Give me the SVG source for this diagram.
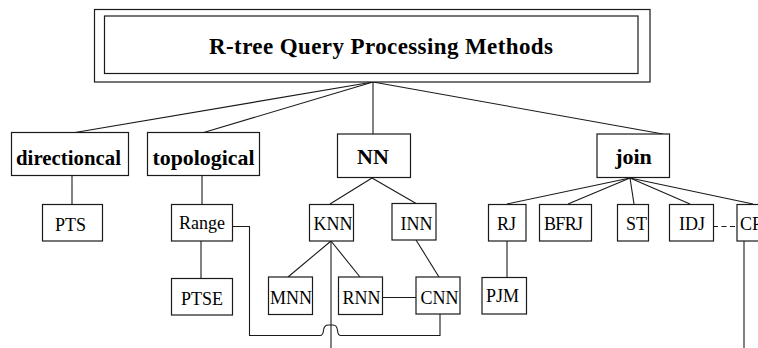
<svg xmlns="http://www.w3.org/2000/svg" width="758" height="348" viewBox="0 0 758 348">
  <style>
    .box { fill: #fff; stroke: #1a1a1a; stroke-width: 1.2; }
    .edge { fill: none; stroke: #1a1a1a; stroke-width: 1.1; }
    .dash { stroke-dasharray: 5 3.5; }
    .h1 { font-family: "Liberation Serif", "Times New Roman", serif; font-weight: bold; font-size: 22px; fill: #000; }
    .title { font-size: 23px; }
    .h2 { font-family: "Liberation Serif", "Times New Roman", serif; font-size: 18px; fill: #000; text-anchor: middle; }
  </style>
  <rect width="758" height="348" fill="#fff"/>

  <!-- connectors -->
  <g id="connectors">
    <line class="edge" x1="373" y1="82" x2="72" y2="133"/>
    <line class="edge" x1="373" y1="82" x2="202" y2="133"/>
    <line class="edge" x1="373" y1="82" x2="373" y2="134"/>
    <line class="edge" x1="373" y1="82" x2="663" y2="134"/>

    <line class="edge" x1="72" y1="176" x2="72" y2="204"/>
    <line class="edge" x1="202" y1="176" x2="202" y2="204"/>
    <line class="edge" x1="201" y1="241" x2="201" y2="278"/>

    <line class="edge" x1="372" y1="178" x2="330" y2="204"/>
    <line class="edge" x1="372" y1="178" x2="417" y2="204"/>
    <line class="edge" x1="331" y1="241" x2="288" y2="277"/>
    <line class="edge" x1="331" y1="241" x2="360" y2="277"/>
    <line class="edge" x1="331" y1="241" x2="331" y2="348"/>
    <line class="edge" x1="416" y1="240" x2="439" y2="277"/>
    <line class="edge" x1="382" y1="297.5" x2="416" y2="297.5"/>

    <!-- Range to CNN, hopping over the KNN drop line -->
    <path class="edge" d="M232 226.5 H249.5 V335.5 H320 Q323 335.5 323.5 330.5 Q324 325 328.5 325 H333 Q337 325 337.5 330.5 Q338 335.5 341 335.5 H440 V314"/>

    <line class="edge" x1="630" y1="178" x2="507" y2="204"/>
    <line class="edge" x1="630" y1="178" x2="568" y2="204"/>
    <line class="edge" x1="630" y1="178" x2="634" y2="204"/>
    <line class="edge" x1="630" y1="178" x2="690" y2="204"/>
    <line class="edge" x1="630" y1="178" x2="753" y2="204"/>
    <line class="edge" x1="507" y1="241" x2="507" y2="277"/>
    <line class="edge dash" x1="713" y1="226.5" x2="737" y2="226.5"/>
    <line class="edge" x1="744" y1="241" x2="744" y2="348"/>
  </g>

  <!-- root -->
  <g id="root">
    <rect class="box" x="94.5" y="9.5" width="555.5" height="72.5"/>
    <rect class="box" x="104.5" y="16" width="533.5" height="57.5"/>
    <text class="h1 title" x="209" y="53.5" textLength="344" lengthAdjust="spacing">R-tree Query Processing Methods</text>
  </g>

  <!-- first level -->
  <g id="directioncal">
    <rect class="box" x="11.5" y="132.5" width="117" height="43"/>
    <text class="h1" x="16" y="164.5" textLength="105" lengthAdjust="spacingAndGlyphs">directioncal</text>
  </g>
  <g id="topological">
    <rect class="box" x="147.5" y="132.5" width="112" height="43"/>
    <text class="h1" x="152.5" y="164.5" textLength="102" lengthAdjust="spacingAndGlyphs">topological</text>
  </g>
  <g id="NN">
    <rect class="box" x="337.5" y="134" width="73" height="43.5"/>
    <text class="h1" x="373" y="164" text-anchor="middle">NN</text>
  </g>
  <g id="join">
    <rect class="box" x="597" y="134" width="72.5" height="43.5"/>
    <text class="h1" x="633.5" y="164" text-anchor="middle">join</text>
  </g>

  <!-- second level -->
  <g id="PTS">
    <rect class="box" x="42.5" y="204.5" width="60" height="36.5"/>
    <text class="h2" x="70.5" y="231">PTS</text>
  </g>
  <g id="Range">
    <rect class="box" x="171.5" y="204.5" width="61" height="36.5"/>
    <text class="h2" x="202" y="228.5">Range</text>
  </g>
  <g id="PTSE">
    <rect class="box" x="171.5" y="278.5" width="61" height="36.5"/>
    <text class="h2" x="202" y="304.5">PTSE</text>
  </g>
  <g id="KNN">
    <rect class="box" x="309.5" y="204.5" width="44" height="36.5"/>
    <text class="h2" x="333" y="230">KNN</text>
  </g>
  <g id="INN">
    <rect class="box" x="392" y="203.5" width="44" height="36.5"/>
    <text class="h2" x="416.5" y="230">INN</text>
  </g>
  <g id="MNN">
    <rect class="box" x="268.5" y="277" width="44" height="37.5"/>
    <text class="h2" x="291" y="303.5">MNN</text>
  </g>
  <g id="RNN">
    <rect class="box" x="338.5" y="277" width="44" height="37.5"/>
    <text class="h2" x="361.5" y="303.5">RNN</text>
  </g>
  <g id="CNN">
    <rect class="box" x="416" y="277" width="44" height="37"/>
    <text class="h2" x="439.5" y="303.5">CNN</text>
  </g>
  <g id="RJ">
    <rect class="box" x="488.5" y="204.5" width="37.5" height="36.5"/>
    <text class="h2" x="506.5" y="230">RJ</text>
  </g>
  <g id="PJM">
    <rect class="box" x="482" y="277.5" width="44.5" height="36.5"/>
    <text class="h2" x="502.5" y="301.5">PJM</text>
  </g>
  <g id="BFRJ">
    <rect class="box" x="539.5" y="204.5" width="52" height="36.5"/>
    <text class="h2" x="563.5" y="230" textLength="39" lengthAdjust="spacing">BFRJ</text>
  </g>
  <g id="ST">
    <rect class="box" x="617.5" y="204.5" width="31" height="36.5"/>
    <text class="h2" x="636.5" y="230">ST</text>
  </g>
  <g id="IDJ">
    <rect class="box" x="669.5" y="204.5" width="44" height="36.5"/>
    <text class="h2" x="692" y="230">IDJ</text>
  </g>
  <!-- this box runs past the right edge of the canvas -->
  <g id="CP">
    <rect class="box" x="737" y="204.5" width="44" height="36.5"/>
    <text class="h2" x="740" y="230" style="text-anchor:start">CP</text>
  </g>
</svg>
